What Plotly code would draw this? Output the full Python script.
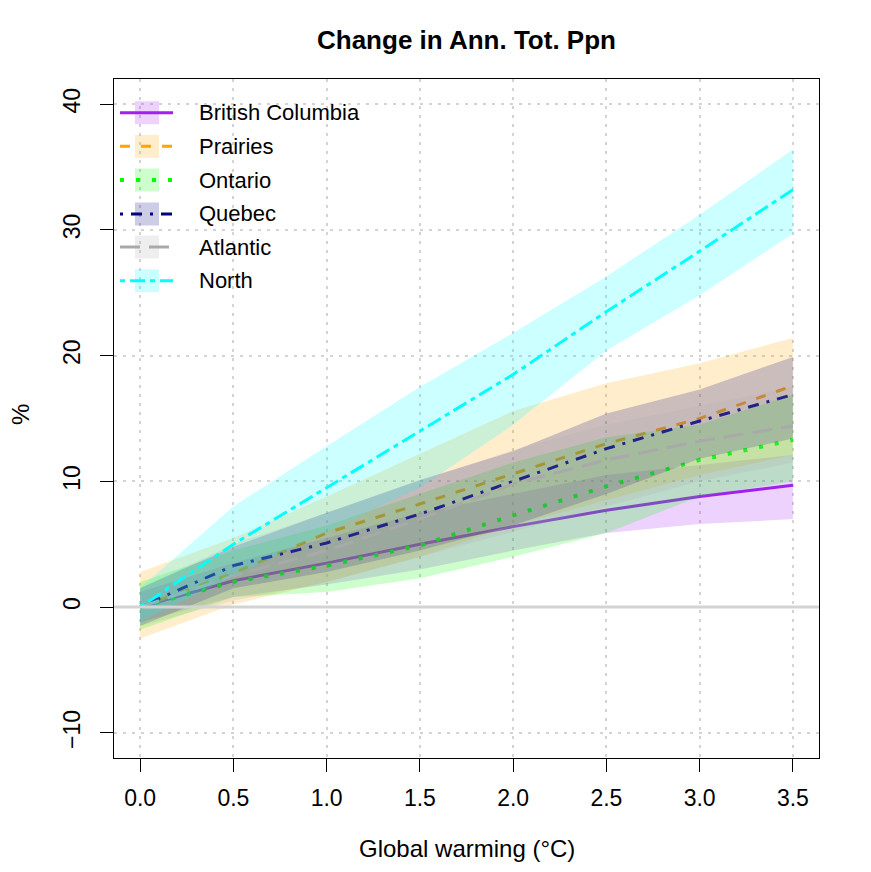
import plotly.graph_objects as go

# ---------------- data ----------------
warming = [0, 0.5, 1.0, 1.5, 2.0, 2.5, 3.0, 3.5]

regions = ["British Columbia", "Prairies", "Ontario", "Quebec", "Atlantic", "North"]

bc_mean = [0, 2.1, 3.5, 5.0, 6.4, 7.7, 8.8, 9.7]
bc_lo   = [-1.2, 0.8, 1.8, 3.0, 4.5, 5.9, 6.6, 7.0]
bc_hi   = [1.2, 3.5, 5.5, 7.5, 9.0, 10.5, 11.3, 12.1]

pr_mean = [0, 2.7, 5.9, 8.2, 10.6, 13.0, 15.0, 17.6]
pr_lo   = [-2.5, 0.2, 2.0, 4.0, 6.5, 8.5, 10.5, 12.1]
pr_hi   = [2.8, 5.5, 8.8, 12.2, 15.6, 17.8, 19.4, 21.4]

on_mean = [0, 2.0, 3.3, 4.9, 7.3, 9.6, 11.7, 13.3]
on_lo   = [-1.8, 0.8, 1.2, 2.3, 4.0, 5.9, 8.8, 10.0]
on_hi   = [2.0, 4.5, 6.5, 9.0, 11.5, 13.5, 14.5, 16.9]

qc_mean = [0, 3.3, 5.1, 7.4, 10.0, 12.6, 14.8, 16.9]
qc_lo   = [-1.5, 1.5, 2.8, 4.5, 6.5, 9.0, 11.8, 13.4]
qc_hi   = [1.5, 4.8, 7.5, 10.1, 12.4, 15.4, 17.3, 19.9]

at_mean = [0, 2.5, 4.5, 7.0, 9.8, 11.7, 13.2, 14.4]
at_lo   = [-1.5, 0.5, 2.0, 4.0, 6.0, 8.0, 10.0, 11.5]
at_hi   = [1.5, 5.0, 7.5, 10.0, 12.5, 14.5, 16.0, 17.5]

no_mean = [0, 5.0, 9.5, 14.0, 18.5, 23.5, 28.3, 33.2]
no_lo   = [-1.2, 2.5, 6.0, 9.5, 14.5, 20.4, 24.8, 29.7]
no_hi   = [1.5, 8.0, 12.8, 17.5, 21.8, 26.3, 31.2, 36.4]

x_ticks = [0.0, 0.5, 1.0, 1.5, 2.0, 2.5, 3.0, 3.5]
x_tick_labels = ["0.0", "0.5", "1.0", "1.5", "2.0", "2.5", "3.0", "3.5"]
y_ticks = [-10, 0, 10, 20, 30, 40]
y_tick_labels = ["\u221210", "0", "10", "20", "30", "40"]

# ---------------- styles ----------------
line_colors = ["#A020F0", "#FFA500", "#00FF00", "#000080", "#A9A9A9", "#00FFFF"]
fill_colors = ["rgba(160,32,240,0.2)", "rgba(255,165,0,0.2)", "rgba(0,255,0,0.2)",
               "rgba(0,0,128,0.2)", "rgba(169,169,169,0.2)", "rgba(0,255,255,0.2)"]
dashes = ["solid", "10px,11px", "4px,12px", "3px,8px,11px,8px", "20px,9px", "5px,5px,15px,5px"]
widths = [3, 3, 4, 3, 3, 3]

series = [
    (bc_mean, bc_lo, bc_hi),
    (pr_mean, pr_lo, pr_hi),
    (on_mean, on_lo, on_hi),
    (qc_mean, qc_lo, qc_hi),
    (at_mean, at_lo, at_hi),
    (no_mean, no_lo, no_hi),
]

FONT = "Liberation Sans, Arial, sans-serif"

fig = go.Figure()
for i, (name, (m, lo, hi)) in enumerate(zip(regions, series)):
    fig.add_trace(go.Scatter(
        x=warming + warming[::-1], y=hi + lo[::-1],
        fill="toself", fillcolor=fill_colors[i], mode="lines",
        line=dict(width=0, color="rgba(0,0,0,0)"), hoverinfo="skip", showlegend=False))
    fig.add_trace(go.Scatter(
        x=warming, y=m, mode="lines", name=name,
        line=dict(color=line_colors[i], width=widths[i], dash=dashes[i]),
        showlegend=False))

# page offset (body margin) and plot box in screen pixels
OFF = 8
W, H = 863, 864
L, R, T, B = 114, 819, 79, 758


def px(xp):
    return (xp - L) / (R - L)


def py(yp):
    return (B - yp) / (B - T)


shapes = []
annotations = []
# zero line
shapes.append(dict(type="line", xref="paper", yref="y", x0=0, x1=1, y0=0, y1=0,
                   line=dict(color="#D3D3D3", width=3), layer="above"))

# manual legend (R style)
row_y = [112.7, 146.3, 180.0, 214.0, 247.0, 280.7]
for i, name in enumerate(regions):
    yc = row_y[i]
    shapes.append(dict(type="rect", xref="paper", yref="paper",
                       x0=px(135), x1=px(159), y0=py(yc + 11.5), y1=py(yc - 11.5),
                       fillcolor=fill_colors[i], line=dict(width=0), layer="above"))
    shapes.append(dict(type="line", xref="paper", yref="paper",
                       x0=px(120), x1=px(173), y0=py(yc), y1=py(yc),
                       line=dict(color=line_colors[i], width=widths[i], dash=dashes[i]),
                       layer="above"))
    annotations.append(dict(xref="paper", yref="paper", x=px(197), y=py(yc),
                            text=name, showarrow=False, xanchor="left", yanchor="middle",
                            font=dict(family=FONT, size=22, color="black")))

# title
annotations.append(dict(xref="paper", yref="paper", x=0.5, y=py(40), text="<b>Change in Ann. Tot. Ppn</b>",
                        showarrow=False, xanchor="center", yanchor="middle",
                        font=dict(family=FONT, size=26, color="black")))
# axis titles
annotations.append(dict(xref="paper", yref="paper", x=0.5, y=py(848), text="Global warming (\u00b0C)",
                        showarrow=False, xanchor="center", yanchor="middle",
                        font=dict(family=FONT, size=24, color="black")))
annotations.append(dict(xref="paper", yref="paper", x=px(20), y=py(415), text="%", textangle=-90,
                        showarrow=False, xanchor="center", yanchor="middle",
                        font=dict(family=FONT, size=24, color="black")))

fig.update_layout(
    width=W, height=H,
    margin=dict(l=L - OFF, r=W + OFF - R, t=T - OFF, b=H + OFF - B),
    plot_bgcolor="white", paper_bgcolor="white",
    font=dict(family=FONT, size=24, color="black"),
    shapes=shapes, annotations=annotations,
    showlegend=False,
)

fig.update_xaxes(
    range=[-0.14, 3.64], tickvals=x_ticks, ticktext=x_tick_labels,
    showline=True, mirror=True, linecolor="black", linewidth=1,
    ticks="outside", ticklen=13, tickcolor="black", tickwidth=1,
    showgrid=True, gridcolor="#D3D3D3", gridwidth=2, griddash="3px,6px",
    zeroline=False, tickfont=dict(family=FONT, size=23), ticklabelstandoff=6,
)
fig.update_yaxes(
    range=[-12, 42], tickvals=y_ticks, ticktext=y_tick_labels, tickangle=-90,
    showline=True, mirror=True, linecolor="black", linewidth=1,
    ticks="outside", ticklen=13, tickcolor="black", tickwidth=1,
    showgrid=True, gridcolor="#D3D3D3", gridwidth=2, griddash="3px,6px",
    zeroline=False, tickfont=dict(family=FONT, size=23), ticklabelstandoff=11,
)

fig.write_html("out.html")
